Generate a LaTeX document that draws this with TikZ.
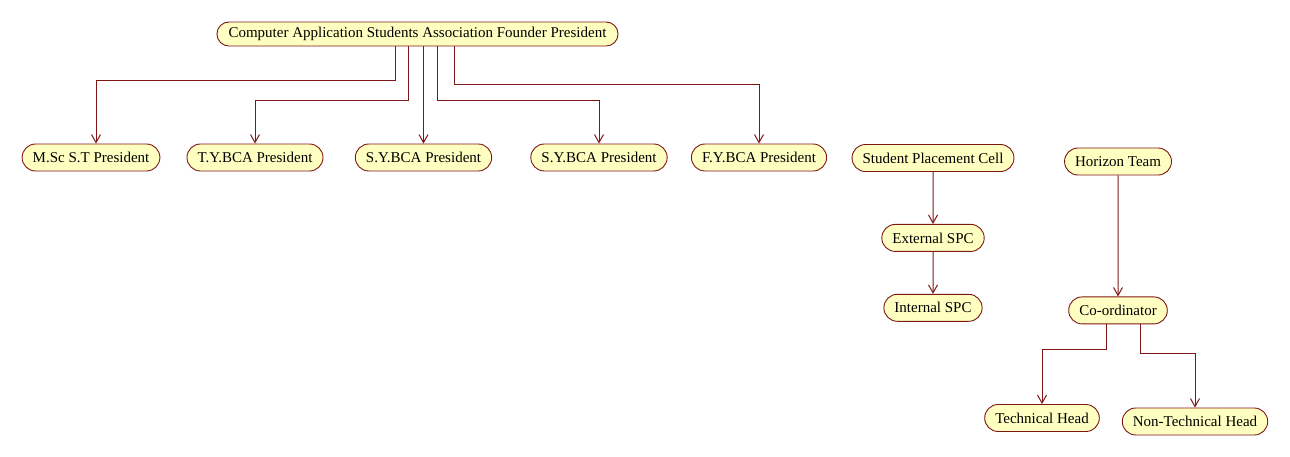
\documentclass[tikz,border=0pt]{standalone}
\usepackage{fontspec}
\setmainfont{Liberation Serif}
\usetikzlibrary{positioning, shapes.misc, arrows.meta}
\definecolor{roleline}{HTML}{7F1616}
\definecolor{rolefill}{HTML}{FFFFC2}
\tikzstyle{role}=[rounded rectangle, draw=roleline, fill=rolefill, line width=0.9pt, minimum height=27pt, inner xsep=9.5pt]
\tikzstyle{link}=[roleline, line width=1pt, -{Straight Barb[length=8pt, width=9pt]}]

\begin{document}
\begin{tikzpicture}[x=1pt, y=-1pt, font=\fontsize{15}{17}\selectfont]
    \useasboundingbox (0,0) rectangle (1290,456);

    % Association
    \node[role, minimum height=24pt] (founder) at (417.5,34) {Computer Application Students Association Founder President};
    \node[role] (msc) at (91,157.5) {M.Sc S.T President};
    \node[role] (ty) at (255,157.5) {T.Y.BCA President};
    \node[role] (syA) at (423.5,157.5) {S.Y.BCA President};
    \node[role] (syB) at (599,157.5) {S.Y.BCA President};
    \node[role] (fy) at (759,157.5) {F.Y.BCA President};

    \draw[link] ([xshift=-22.5pt]founder.south) -- ++(0,34) -| ([xshift=5pt]msc.north);
    \draw[link] ([xshift=-9.5pt]founder.south) -- ++(0,54) -| (ty.north);
    \draw[link] (founder.south -| syA.north) -- (syA.north);
    \draw[link] ([xshift=19.5pt]founder.south) -- ++(0,54) -| (syB.north);
    \draw[link] ([xshift=36.5pt]founder.south) -- ++(0,38) -| (fy.north);

    % Placement cell
    \node[role] (spc) at (933,158) {Student Placement Cell};
    \node[role, below=52pt of spc] (ext) {External SPC};
    \node[role, below=42pt of ext] (int) {Internal SPC};

    \draw[link] (spc) -- (ext);
    \draw[link] (ext) -- (int);

    % Horizon
    \node[role] (horizon) at (1118,161.5) {Horizon Team};
    \node[role, below=121pt of horizon] (coord) {Co-ordinator};
    \node[role] (tech) at (1042,418) {Technical Head};
    \node[role] (nontech) at (1195,421.5) {Non-Technical Head};

    \draw[link] (horizon) -- (coord);
    \draw[link] ([xshift=-12pt]coord.south) -- ++(0,25) -| (tech.north);
    \draw[link] ([xshift=22pt]coord.south) -- ++(0,29) -| (nontech.north);
\end{tikzpicture}
\end{document}
